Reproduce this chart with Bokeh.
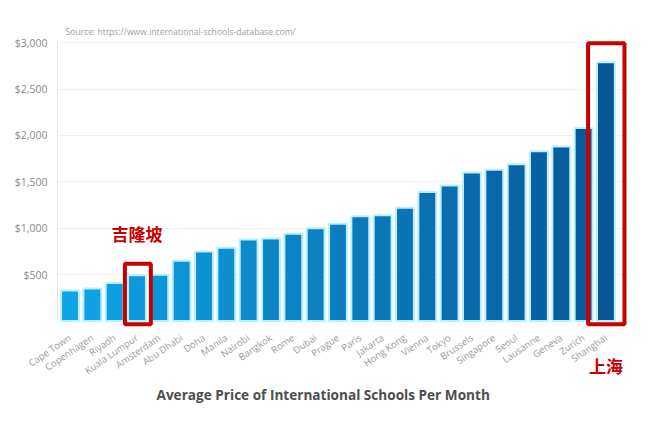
from bokeh.plotting import figure
from bokeh.models import (ColumnDataSource, Range1d, FixedTicker, NumeralTickFormatter,
                          Title, LinearAxis)
from bokeh.core.properties import value
from bokeh.embed import file_html
from bokeh.resources import INLINE

cities = ["Cape Town", "Copenhagen", "Riyadh", "Kuala Lumpur", "Amsterdam", "Abu Dhabi",
          "Doha", "Manila", "Nairobi", "Bangkok", "Rome", "Dubai", "Prague", "Paris",
          "Jakarta", "Hong Kong", "Vienna", "Tokyo", "Brussels", "Singapore", "Seoul",
          "Lausanne", "Geneva", "Zurich", "Shanghai"]
prices = [330, 350, 410, 495, 500, 650, 750, 790, 880, 890, 940, 1000, 1050, 1130,
          1140, 1220, 1390, 1460, 1600, 1630, 1690, 1830, 1880, 2080, 2790]
y_ticks = [500, 1000, 1500, 2000, 2500, 3000]
highlight_cn = {"Kuala Lumpur": "吉隆坡", "Shanghai": "上海"}

title_text = "Average Price of International Schools Per Month"
source_text = "Source: https://www.international-schools-database.com/"

# colour gradient (style) from light blue to dark blue
c0 = (0x0E, 0xA4, 0xE6)
c1 = (0x07, 0x57, 0x98)
n = len(cities)
colors = []
for i in range(n):
    t = i / (n - 1)
    rgb = tuple(int(round(a + (b - a) * t)) for a, b in zip(c0, c1))
    colors.append("#%02x%02x%02x" % rgb)

xs = list(range(n))
src = ColumnDataSource(dict(x=xs, city=cities, price=prices, color=colors))

p = figure(width=656, height=422, output_backend="svg", toolbar_location=None,
           x_range=Range1d(-0.56, 25.01), y_range=Range1d(-80, 3045),
           min_border_left=57, min_border_right=28, min_border_top=38,
           min_border_bottom=94)
p.outline_line_color = None
p.background_fill_color = "white"
p.border_fill_color = "white"

p.vbar(x="x", top="price", bottom=0, width=0.8, source=src,
       fill_color="color", line_color="#b8f0ff", line_width=2)

# highlight boxes
ikl = cities.index("Kuala Lumpur")
ish = cities.index("Shanghai")
p.quad(left=[ikl - 0.54, ish - 0.80], right=[ikl + 0.62, ish + 0.83],
       bottom=[-33, -33], top=[618, 2995], fill_color=None,
       line_color="#c80000", line_width=4)

p.text(x=[ikl], y=[940], text=[highlight_cn["Kuala Lumpur"]],
       text_font=value("Noto Sans CJK SC"), text_font_size="17px",
       text_font_style="bold",
       text_color="#c80000", text_align="center", text_baseline="middle")

# x axis with city names
p.xaxis.ticker = FixedTicker(ticks=xs)
p.xaxis.major_label_overrides = {i: c for i, c in enumerate(cities)}
p.xaxis.major_label_orientation = 0.6
p.xaxis.axis_line_color = None
p.xaxis.major_tick_line_color = None
p.xaxis.minor_tick_line_color = None
p.xaxis.major_label_text_font = "Open Sans"
p.xaxis.major_label_text_font_size = "9.5px"
p.xaxis.major_label_text_color = "#9a9a9a"
p.xaxis.major_label_standoff = 2

# second axis carrying the Chinese annotation under Shanghai
ax2 = LinearAxis(ticker=FixedTicker(ticks=[ish]),
                 major_label_overrides={ish: highlight_cn["Shanghai"]},
                 axis_line_color=None, major_tick_line_color=None,
                 minor_tick_line_color=None,
                 major_label_text_font="Noto Sans CJK SC",
                 major_label_text_font_size="17px",
                 major_label_text_font_style="bold",
                 major_label_text_color="#c80000",
                 major_label_standoff=-39)
p.add_layout(ax2, "below")

# y axis
p.yaxis.ticker = FixedTicker(ticks=y_ticks)
p.yaxis.formatter = NumeralTickFormatter(format="$0,0")
p.yaxis.bounds = (0, 3000)
p.yaxis.axis_line_color = "#e4e4e4"
p.yaxis.major_tick_line_color = None
p.yaxis.minor_tick_line_color = None
p.yaxis.major_label_text_font = "Open Sans"
p.yaxis.major_label_text_font_size = "10.5px"
p.yaxis.major_label_text_color = "#8a8a8a"
p.yaxis.major_label_standoff = 4

p.xgrid.grid_line_color = None
p.ygrid.ticker = FixedTicker(ticks=y_ticks)
p.ygrid.grid_line_color = "#f0f0f0"

p.add_layout(Title(text=source_text, align="left", offset=8, standoff=1,
                   text_font="Open Sans", text_font_size="8.6px",
                   text_font_style="normal", text_color="#a0a0a0"), "above")
p.add_layout(Title(text=title_text, align="left", offset=99, standoff=-6,
                   text_font="Open Sans", text_font_size="13.6px",
                   text_font_style="bold", text_color="#4d4d4d"), "below")

open("out.html", "w").write(file_html(p, INLINE))
